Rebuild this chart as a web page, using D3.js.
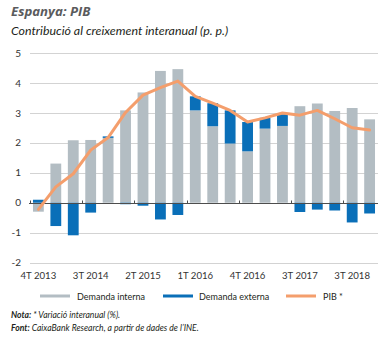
<!DOCTYPE html>
<html>
<head>
<meta charset="utf-8">
<script src="https://cdn.jsdelivr.net/npm/d3@7"></script>
<style>
  html, body { margin: 0; padding: 0; background: #ffffff; }
  svg { display: block; }
  text { font-family: "Lato", "Open Sans", sans-serif; }
</style>
</head>
<body>
<svg id="chart" width="389" height="338"></svg>
<script>
const categories = ["4T 2013","1T 2014","2T 2014","3T 2014","4T 2014","1T 2015","2T 2015","3T 2015","4T 2015",
  "1T 2016","2T 2016","3T 2016","4T 2016","1T 2017","2T 2017","3T 2017","4T 2017","1T 2018","2T 2018","3T 2018"];
const demandaInterna = [-0.30, 1.31, 2.09, 2.10, 2.17, 3.09, 3.69, 4.41, 4.47, 3.09, 2.56, 1.98, 1.72, 2.48, 2.57, 3.23, 3.32, 3.07, 3.17, 2.79];
const demandaExterna = [0.10, -0.78, -1.09, -0.33, 0.05, -0.05, -0.10, -0.56, -0.41, 0.47, 0.77, 1.11, 0.98, 0.36, 0.39, -0.31, -0.23, -0.26, -0.66, -0.36];
const pib = [-0.22, 0.53, 0.97, 1.76, 2.18, 3.02, 3.60, 3.85, 4.07, 3.56, 3.33, 3.09, 2.70, 2.84, 3.00, 2.93, 3.09, 2.81, 2.51, 2.43];
const tickIndices = [0, 3, 6, 9, 12, 15, 18];
const tickLabels = ["4T 2013","3T 2014","2T 2015","1T 2016","4T 2016","3T 2017","3T 2018"];
const yTicks = [-2, -1, 0, 1, 2, 3, 4, 5];
const seriesNames = ["Demanda interna", "Demanda externa", "PIB *"];

const colors = { interna: "#b3bdc3", externa: "#0a6fb8", pib: "#f49e6c" };

const svg = d3.select("#chart");

// Title
svg.append("text").attr("x", 11).attr("y", 16)
  .attr("font-size", 13.2).attr("font-weight", "bold").attr("font-style", "italic")
  .style("font-family", "'Open Sans', sans-serif")
  .attr("fill", "#5a5b5d").text("Espanya: PIB");
svg.append("text").attr("x", 11).attr("y", 35)
  .attr("font-size", 12.4).attr("font-style", "italic")
  .attr("fill", "#231f20").text("Contribució al creixement interanual (p. p.)");

const x = d3.scaleBand().domain(categories).range([29.5, 378.5]).paddingInner(0.38).paddingOuter(0.2);
const y = d3.scaleLinear().domain([-2, 5]).range([262.5, 53.3]);

// gridlines
svg.append("g").selectAll("line").data(yTicks.filter(d => d !== 0)).join("line")
  .attr("x1", 30).attr("x2", 378)
  .attr("y1", d => Math.round(y(d)) + 0.5).attr("y2", d => Math.round(y(d)) + 0.5)
  .attr("stroke", "#d3d3d3").attr("stroke-width", 1);

// y labels
svg.append("g").selectAll("text").data(yTicks).join("text")
  .attr("x", 21).attr("y", d => y(d) + 3.5)
  .attr("text-anchor", "end").attr("font-size", 10).attr("fill", "#333")
  .text(d => d);

// stacked bars (diverging)
const rows = categories.map((c, i) => ({ cat: c, interna: demandaInterna[i], externa: demandaExterna[i] }));
const stack = d3.stack().keys(["interna", "externa"]).offset(d3.stackOffsetDiverging);
const stacked = stack(rows);

svg.append("g").selectAll("g").data(stacked).join("g")
  .attr("fill", d => colors[d.key])
  .selectAll("rect").data(d => d).join("rect")
  .attr("x", d => x(d.data.cat))
  .attr("width", x.bandwidth())
  .attr("y", d => y(Math.max(d[0], d[1])))
  .attr("height", d => Math.abs(y(d[0]) - y(d[1])));

// zero line
const y0 = Math.round(y(0)) + 0.5;
svg.append("line").attr("x1", 29).attr("x2", 378).attr("y1", y0).attr("y2", y0)
  .attr("stroke", "#4d4d4d").attr("stroke-width", 1);

// ticks at group boundaries
svg.append("g").selectAll("line").data(tickIndices).join("line")
  .attr("x1", i => Math.round(x(categories[i]) + x.bandwidth() / 2 - x.step() / 2) + 0.5)
  .attr("x2", i => Math.round(x(categories[i]) + x.bandwidth() / 2 - x.step() / 2) + 0.5)
  .attr("y1", y0).attr("y2", y0 - 3)
  .attr("stroke", "#4d4d4d").attr("stroke-width", 1);

// x labels
svg.append("g").selectAll("text").data(tickIndices).join("text")
  .attr("x", (i) => x(categories[i]) + x.bandwidth() / 2)
  .attr("y", 278.5)
  .attr("text-anchor", "middle").attr("font-size", 9.6).attr("fill", "#333")
  .text((i, k) => tickLabels[k]);

// PIB line
const line = d3.line()
  .x((d, i) => x(categories[i]) + x.bandwidth() / 2)
  .y(d => y(d));
svg.append("path").datum(pib).attr("d", line)
  .attr("fill", "none").attr("stroke", colors.pib).attr("stroke-width", 3)
  .attr("stroke-linejoin", "round").attr("stroke-linecap", "round");

// legend
const legendItems = [
  { name: seriesNames[0], color: colors.interna, sx: 40, tx: 77 },
  { name: seriesNames[1], color: colors.externa, sx: 163, tx: 199 },
  { name: seriesNames[2], color: colors.pib, sx: 286, tx: 323 }
];
const lg = svg.append("g");
lg.selectAll("rect").data(legendItems).join("rect")
  .attr("x", d => d.sx).attr("y", 294.5).attr("width", 30).attr("height", 3)
  .attr("fill", d => d.color);
lg.selectAll("text").data(legendItems).join("text")
  .attr("x", d => d.tx).attr("y", 299.5)
  .attr("font-size", 9).attr("fill", "#231f20").text(d => d.name);

// notes
const n1 = svg.append("text").attr("x", 11).attr("y", 318).attr("font-size", 8.6).attr("font-style", "italic").attr("fill", "#231f20");
n1.append("tspan").attr("font-weight", "bold").text("Nota:");
n1.append("tspan").text(" * Variació interanual (%).");
const n2 = svg.append("text").attr("x", 11).attr("y", 331).attr("font-size", 8.6).attr("font-style", "italic").attr("fill", "#231f20");
n2.append("tspan").attr("font-weight", "bold").text("Font:");
n2.append("tspan").text(" CaixaBank Research, a partir de dades de l’INE.");
</script>
</body>
</html>
